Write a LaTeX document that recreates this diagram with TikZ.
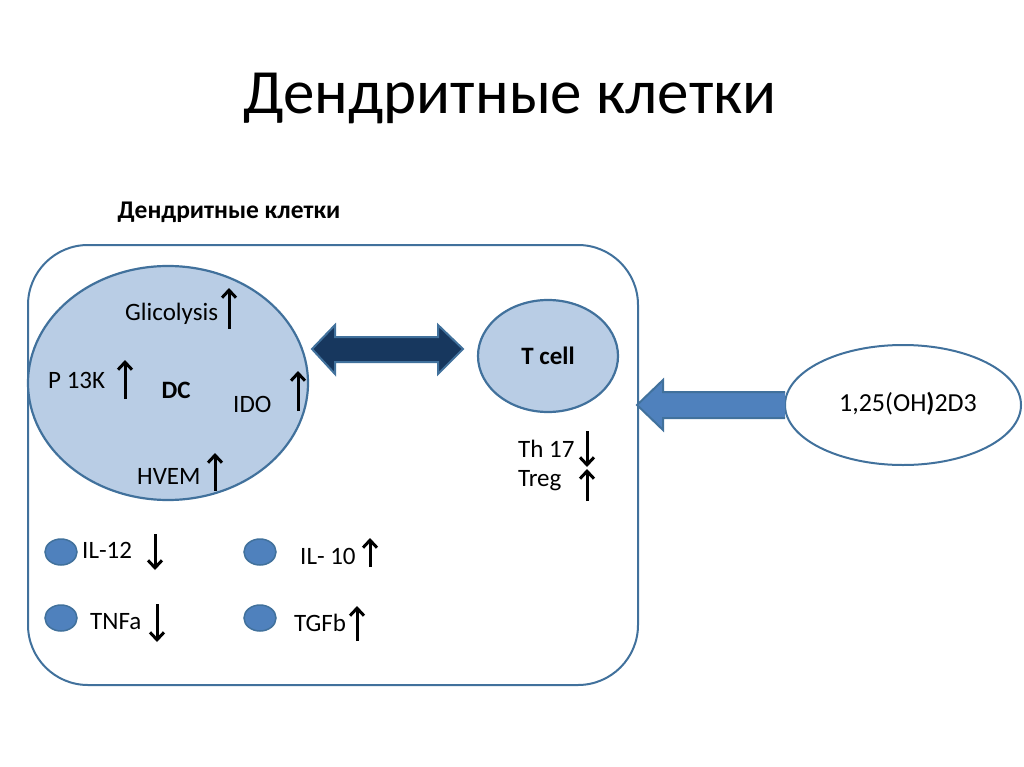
\documentclass[tikz,border=0pt]{standalone}
\usepackage{fontspec}
\setmainfont{Carlito}
\usetikzlibrary{arrows.meta,shapes.geometric,calc}
\definecolor{bordblue}{HTML}{41719C}
\definecolor{lightfill}{HTML}{B9CDE5}
\definecolor{midblue}{HTML}{4F81BD}
\definecolor{navy}{HTML}{17375E}
\tikzset{
  cell/.style={ellipse,draw=bordblue,line width=2.2pt,fill=lightfill,inner sep=0pt},
  dot/.style={ellipse,draw=bordblue,line width=1.5pt,fill=midblue,minimum width=32pt,minimum height=26pt,inner sep=0pt},
  lbl/.style={font=\fontsize{25}{30}\selectfont,inner sep=0pt,anchor=west},
  up/.style={line width=3pt,-{Straight Barb[length=7.5pt,width=14pt,line width=3pt]}},
}
\begin{document}
\begin{tikzpicture}[x=1pt,y=-1pt]
\useasboundingbox (0,0) rectangle (1024,767);
\node (title) at (510,98) {\fontsize{63}{72}\selectfont Дендритные клетки};
\node (sub) at (229,212) {\fontsize{25.5}{30}\selectfont\bfseries Дендритные клетки};
\draw[bordblue,line width=2pt,rounded corners=60pt] (28,245) rectangle (638,685);
\node[cell,minimum width=280pt,minimum height=234pt] (dc) at (168,383) {};
\node[cell,minimum width=140pt,minimum height=112pt] (tc) at (548,356) {};
\node[ellipse,draw=bordblue,line width=2pt,fill=white,minimum width=236pt,minimum height=120pt,inner sep=0pt] (vd) at (903,405) {};
% double arrow
\draw[draw=bordblue,line width=2pt,fill=navy,line join=miter]
 (312,349) -- (335,325) -- (335,337) -- (438,337) -- (438,325) -- (463,349)
 -- (438,374) -- (438,362) -- (335,362) -- (335,374) -- cycle;
% big arrow from vd
\draw[draw=bordblue,line width=2pt,fill=midblue,line join=miter]
 ($(vd.west)+(1,-13)$) -- (663,392) -- (663,380) -- (637,405) -- (663,430) -- (663,418) -- ($(vd.west)+(1,13)$);
\node[font=\fontsize{26}{30}\selectfont] (vdt) at (908,404) {1,25(OH\textbf{)}2D3};
% DC texts
\node[lbl] (gl) at (125,314) {Glicolysis};
\draw[up] (229,329) -- (229,288);
\node[lbl] (p13) at (48,380) {P 13K};
\draw[up] (125,399) -- (125,360);
\node[font=\fontsize{25}{30}\selectfont\bfseries] (dct) at (176,390) {DC};
\node[lbl] (ido) at (233,404) {IDO};
\draw[up] (298,411) -- (298,371);
\node[lbl] (hv) at (137,476) {HVEM};
\draw[up] (215,491) -- (215,453);
\node[font=\fontsize{25}{30}\selectfont\bfseries] (tct) at (548,356) {T cell};
\node[lbl] (th) at (518,449) {Th 17};
\draw[up] (587,431) -- (587,467);
\node[lbl] (tr) at (518,481) {Treg};
\draw[up] (587,501) -- (587,469);
% cytokines
\node[dot] (d1) at (61,552) {};
\node[dot] (d2) at (260,552) {};
\node[dot] (d3) at (61,618) {};
\node[dot] (d4) at (260,618) {};
\node[lbl] (il12) at (82,550) {IL-12};
\draw[up] (155,534) -- (155,570);
\node[lbl] (il10) at (300,556) {IL- 10};
\draw[up] (370,567) -- (370,538);
\node[lbl] (tnf) at (90,622) {TNFa};
\draw[up] (157,604) -- (157,642);
\node[lbl] (tgf) at (294,623) {TGFb};
\draw[up] (357,641) -- (357,606);
\end{tikzpicture}
\end{document}
